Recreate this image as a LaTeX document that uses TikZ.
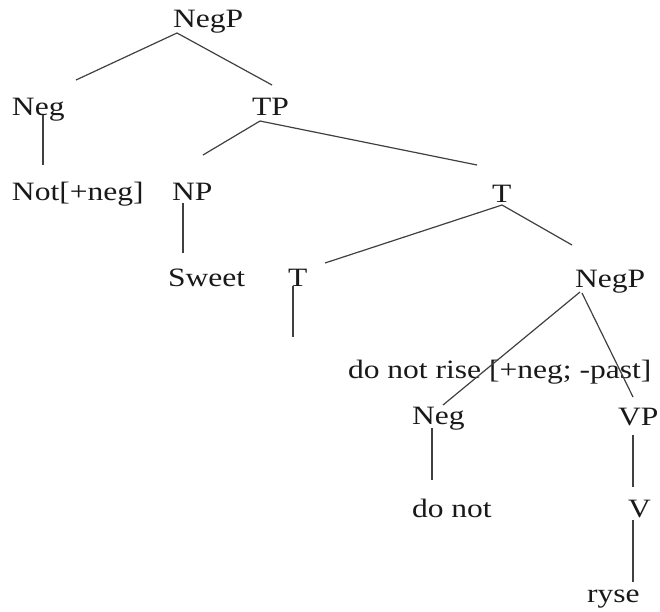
\documentclass[tikz,border=0pt]{standalone}
\usepackage{fontspec}
\setmainfont{Liberation Serif}
\usepackage{graphicx}
\newcommand{\lbl}[1]{\scalebox{1.19}[1]{#1}}
\begin{document}
\begin{tikzpicture}[x=1pt,y=1pt,
  lab/.style={anchor=base west,inner sep=0pt,outer sep=0pt,text=black!90,
    font=\fontsize{26.5pt}{30pt}\selectfont},
  branch/.style={draw=black!75,line width=1.2pt}]
\useasboundingbox (0,0) rectangle (660,-611);

% labels, placed by their baselines
\node[lab] (negp1) at (173,-27)  {\lbl{NegP}};
\node[lab] (neg1)  at (12,-115)  {\lbl{Neg}};
\node[lab] (tp)    at (252,-115) {\lbl{TP}};
\node[lab] (not)   at (12,-200)  {\lbl{Not[+neg]}};
\node[lab] (np)    at (172,-200) {\lbl{NP}};
\node[lab] (t1)    at (492,-202) {\lbl{T}};
\node[lab] (sweet) at (168,-286) {\lbl{Sweet}};
\node[lab] (t2)    at (288,-286) {\lbl{T}};
\node[lab] (negp2) at (575,-287) {\lbl{NegP}};
\node[lab] (feat)  at (348,-378) {\lbl{do not rise [+neg; -past]}};
\node[lab] (neg2)  at (412,-424) {\lbl{Neg}};
\node[lab] (vp)    at (618,-425) {\lbl{VP}};
\node[lab] (donot) at (412,-517) {\lbl{do not}};
\node[lab] (v)     at (628,-517) {\lbl{V}};
\node[lab] (ryse)  at (587,-602) {\lbl{ryse}};
\coordinate (t2leaf) at (293,-337);

% branches
\draw[branch] ([xshift=4pt,yshift=-6pt]negp1.base west) -- ([xshift=64pt,yshift=35pt]neg1.base west);
\draw[branch] ([xshift=4pt,yshift=-6pt]negp1.base west) -- ([xshift=20pt,yshift=30pt]tp.base west);
\draw[branch] ([xshift=31pt]neg1.base west) -- ([xshift=31pt,yshift=35pt]not.base west);
\draw[branch] ([xshift=8pt,yshift=-6pt]tp.base west) -- ([xshift=31pt,yshift=45pt]np.base west);
\draw[branch] ([xshift=8pt,yshift=-6pt]tp.base west) -- ([xshift=-15pt,yshift=37pt]t1.base west);
\draw[branch] ([xshift=11pt,yshift=-3pt]np.base west) -- ([xshift=15pt,yshift=33pt]sweet.base west);
\draw[branch] ([xshift=10pt,yshift=-3pt]t1.base west) -- ([xshift=37pt,yshift=23pt]t2.base west);
\draw[branch] ([xshift=10pt,yshift=-3pt]t1.base west) -- ([xshift=-3pt,yshift=42pt]negp2.base west);
\draw[branch] ([xshift=5pt]t2.base west) -- (t2leaf);
\draw[branch] ([xshift=5pt,yshift=-5pt]negp2.base west) -- ([xshift=31pt,yshift=19pt]neg2.base west);
\draw[branch] ([xshift=7pt,yshift=-6pt]negp2.base west) -- ([xshift=15pt,yshift=28pt]vp.base west);
\draw[branch] ([xshift=20pt,yshift=-4pt]neg2.base west) -- ([xshift=20pt,yshift=37pt]donot.base west);
\draw[branch] ([xshift=15pt,yshift=-10pt]vp.base west) -- ([xshift=5pt,yshift=30pt]v.base west);
\draw[branch] ([xshift=5pt,yshift=-3pt]v.base west) -- ([xshift=46pt,yshift=20pt]ryse.base west);
\end{tikzpicture}
\end{document}
